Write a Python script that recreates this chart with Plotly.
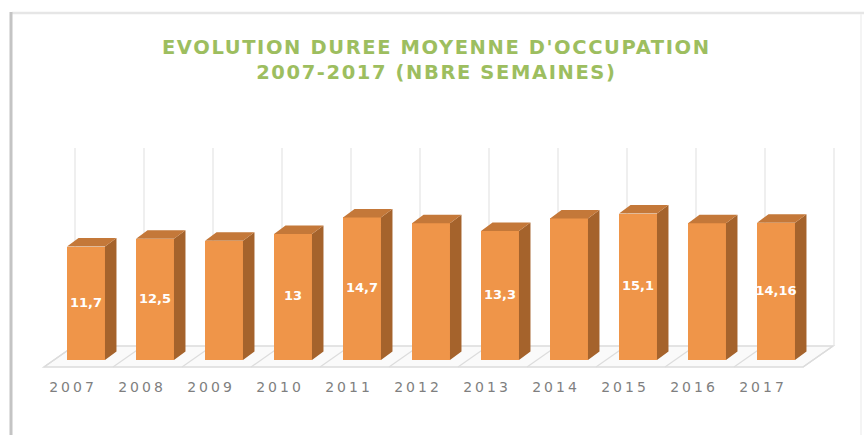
import plotly.graph_objects as go

# ---- data ----
years = ["2007", "2008", "2009", "2010", "2011", "2012", "2013", "2014", "2015", "2016", "2017"]
values = [11.7, 12.5, 12.3, 13.0, 14.7, 14.1, 13.3, 14.6, 15.1, 14.1, 14.16]
labels = ["11,7", "12,5", "", "13", "14,7", "", "13,3", "", "15,1", "", "14,16"]
title_lines = ["EVOLUTION DUREE MOYENNE D'OCCUPATION", "2007-2017 (NBRE SEMAINES)"]

# ---- geometry / style ----
W, H = 864, 435
PX_PER_CAT = 69.0
PX_PER_UNIT = 9.7
X0_PX = 86.0          # pixel of first category centre
ZERO_PX = 360.0       # pixel of value 0
PLOT_BOTTOM = 375.0
bar_w = 0.55
dxu = 11.5 / PX_PER_CAT
dyu = 8.5 / PX_PER_UNIT

def px_x(p):
    return (p - X0_PX) / PX_PER_CAT

def px_y(p):
    return (ZERO_PX - p) / PX_PER_UNIT

x_range = [px_x(0), px_x(W)]
y_range = [px_y(PLOT_BOTTOM), px_y(0)]

FRONT = "#EF9549"
TOP = "#C47839"
SIDE = "#A5632C"
GRID = "#DCDCDC"

idx = list(range(len(years)))

fig = go.Figure()

# side faces and top faces built from values
side_x, side_y, top_x, top_y = [], [], [], []
for i, v in zip(idx, values):
    xl, xr = i - bar_w / 2, i + bar_w / 2
    side_x += [xr, xr + dxu, xr + dxu, xr, xr, None]
    side_y += [0, dyu, v + dyu, v, 0, None]
    top_x += [xl, xr, xr + dxu, xl + dxu, xl, None]
    top_y += [v, v, v + dyu, v + dyu, v, None]

fig.add_trace(go.Bar(
    x=idx, y=values, width=bar_w, marker=dict(color=FRONT, line=dict(width=0)),
    hoverinfo="skip", showlegend=False,
))
fig.add_trace(go.Scatter(x=side_x, y=side_y, mode="lines", fill="toself",
                         fillcolor=SIDE, line=dict(width=0, color=SIDE),
                         hoverinfo="skip", showlegend=False))
fig.add_trace(go.Scatter(x=top_x, y=top_y, mode="lines", fill="toself",
                         fillcolor=TOP, line=dict(width=0, color=TOP),
                         hoverinfo="skip", showlegend=False))
# value labels in the middle of the front faces
fig.add_trace(go.Scatter(
    x=idx, y=[v / 2 for v in values], mode="text", text=labels,
    textposition="middle center",
    textfont=dict(family="DejaVu Sans", size=13, color="white", weight="bold"),
    hoverinfo="skip", showlegend=False,
))

# floor and back-wall gridlines (layout shapes, below traces)
shapes = []
n = len(years)
fl_front_y, fl_back_y = px_y(367), px_y(346)
fx0, bx0 = px_x(44), px_x(74)
wall_top = px_y(148)
shapes.append(dict(type="path", layer="below", xref="x", yref="y",
                   path=f"M{fx0},{fl_front_y} L{fx0 + n},{fl_front_y} L{bx0 + n},{fl_back_y} L{bx0},{fl_back_y} Z",
                   fillcolor="#FAFAFA", line=dict(color=GRID, width=1.5)))
for k in range(n + 1):
    shapes.append(dict(type="line", layer="below", xref="x", yref="y",
                       x0=fx0 + k, y0=fl_front_y, x1=bx0 + k, y1=fl_back_y,
                       line=dict(color=GRID, width=1.2)))
    wx = px_x(75) + k
    shapes.append(dict(type="line", layer="below", xref="x", yref="y",
                       x0=wx, y0=fl_back_y, x1=wx, y1=wall_top,
                       line=dict(color="#E4E4E4", width=1.2)))

# card border / shadow
def paper_x(p):
    return p / W

def paper_y(p):
    return (PLOT_BOTTOM - p) / PLOT_BOTTOM

shapes.append(dict(type="line", xref="paper", yref="paper", layer="below",
                   x0=paper_x(12), y0=paper_y(13), x1=paper_x(870), y1=paper_y(13),
                   line=dict(color="#E6E6E6", width=2.5)))
shapes.append(dict(type="line", xref="paper", yref="paper", layer="below",
                   x0=paper_x(11), y0=paper_y(12), x1=paper_x(11), y1=paper_y(445),
                   line=dict(color="#C4C4C4", width=3)))
shapes.append(dict(type="line", xref="paper", yref="paper", layer="below",
                   x0=paper_x(861), y0=paper_y(14), x1=paper_x(861), y1=paper_y(445),
                   line=dict(color="#F0F0F0", width=1.5)))

title_text = "<br>".join(f"<span style='letter-spacing:1.6px'>{t}</span>" for t in title_lines)
tick_text = [f"<span style='letter-spacing:3px'>{y}</span>" for y in years]

fig.update_layout(
    width=W, height=H,
    margin=dict(l=0, r=0, t=0, b=H - PLOT_BOTTOM),
    paper_bgcolor="white", plot_bgcolor="rgba(0,0,0,0)",
    shapes=shapes,
    title=dict(text=title_text, x=0.505, xanchor="center", xref="paper",
               y=1 - 54 / H, yref="container", yanchor="top",
               font=dict(family="DejaVu Sans", size=19.5, color="#9DBE5F", weight="bold")),
    xaxis=dict(range=x_range, tickvals=idx, ticktext=tick_text, ticks="",
               ticklabelshift=-13, ticklabelstandoff=2,
               showgrid=False, zeroline=False, showline=False, fixedrange=True,
               tickfont=dict(family="DejaVu Sans", size=14, color="#7F7F7F")),
    yaxis=dict(range=y_range, visible=False, showgrid=False, zeroline=False, fixedrange=True),
    bargap=0,
)

fig.write_html("out.html", config={"displayModeBar": False},
               post_script="document.body.style.margin='0';document.body.style.overflow='hidden';")
